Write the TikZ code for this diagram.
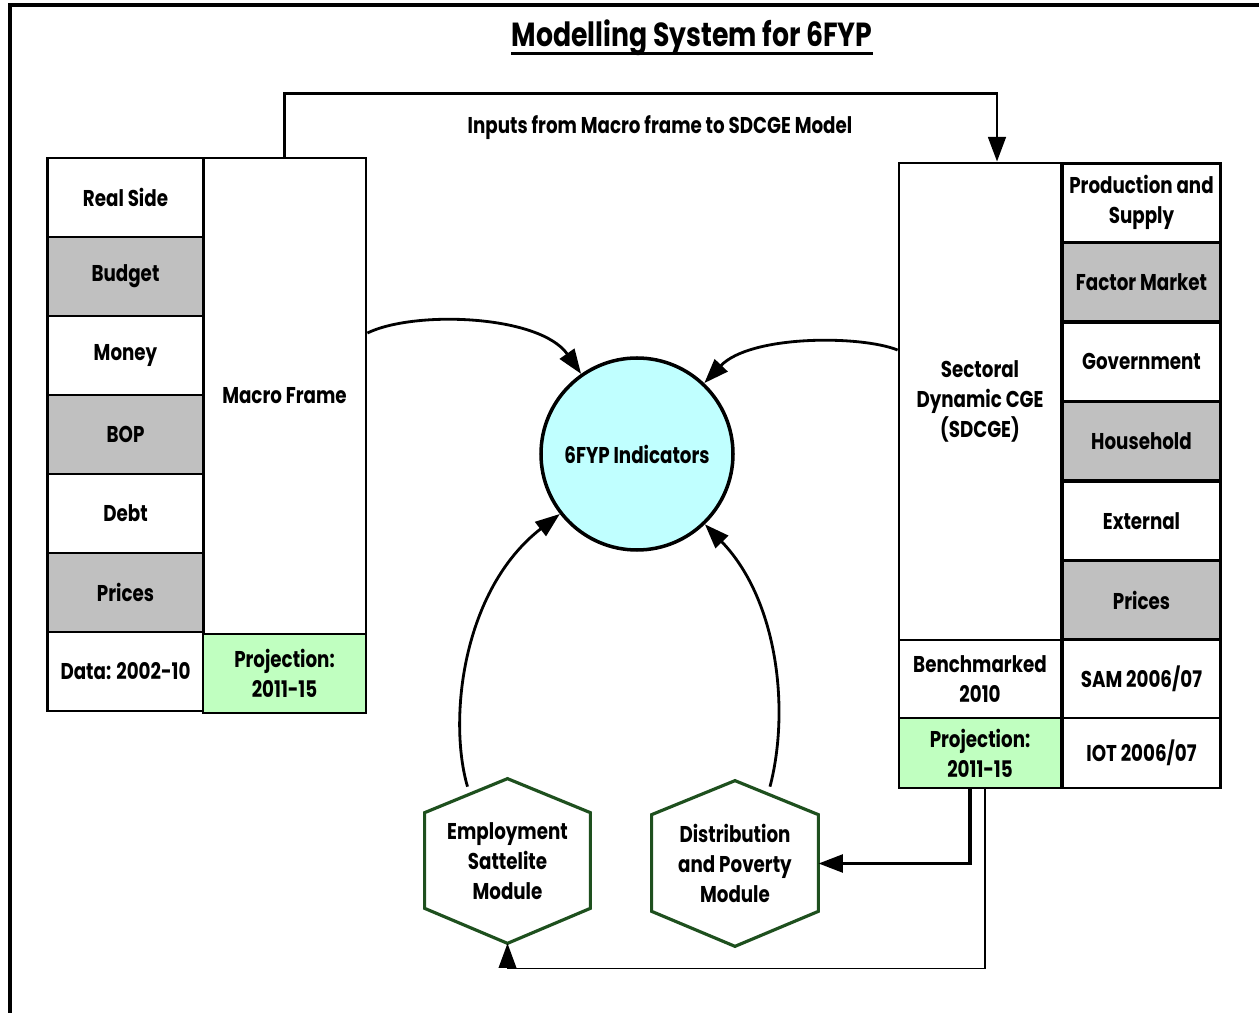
\documentclass[tikz,border=0pt]{standalone}
\usepackage{fontspec}
\setmainfont{Poppins}[FakeStretch=0.8]
\usetikzlibrary{arrows.meta,calc}
\definecolor{boxgray}{RGB}{192,192,192}
\definecolor{projgreen}{RGB}{192,255,192}
\definecolor{indcyan}{RGB}{192,255,255}
\definecolor{hexgreen}{RGB}{30,80,30}
\newcommand\pxu{0.02cm}

\begin{document}
\begin{tikzpicture}[x=0.02cm, y=-0.02cm,
    every node/.style={font=\bfseries\fontsize{13}{17}\selectfont, align=center},
    cell/.style={draw, line width=1.6pt, inner sep=0pt, minimum width=156*\pxu, minimum height=79*\pxu},
    link/.style={line width=1.6pt, -{Triangle[length=14pt,width=10pt]}},
    hexline/.style={draw=hexgreen, line width=1.8pt, line join=miter}]
    \useasboundingbox (0,0) rectangle (1259,1013);
    % frame and title
    \draw[line width=2pt] (10,1013) -- (10,5) -- (1259,5);
    \node[inner sep=0pt] (title) at (692,38) {\fontsize{19}{22}\selectfont Modelling System for 6FYP};
    \draw[line width=1.6pt] ($(title.base west)+(0,7)$) -- ($(title.base east)+(0,7)$);
    % macro frame block
    \foreach \name/\txt/\col [count=\i from 0] in {lreal/Real Side/white, lbudget/Budget/boxgray,
        lmoney/Money/white, lbop/BOP/boxgray, ldebt/Debt/white, lprices/Prices/boxgray, ldata/Data: 2002-10/white} {%
        \node[cell, fill=\col] (\name) at (125.5,{197.5+79*\i}) {\txt};
    }
    \node[cell, minimum width=163*\pxu, minimum height=476*\pxu] (mframe) at (284.5,396) {Macro Frame};
    \node[cell, fill=projgreen, minimum width=163*\pxu] (lproj) at (284.5,673.5) {Projection:\\2011-15};
    % sdcge block
    \node[cell, minimum width=162*\pxu, minimum height=477*\pxu] (sdcge) at (980,401.5) {Sectoral\\Dynamic CGE\\(SDCGE)};
    \foreach \name/\txt/\col [count=\i from 0] in {rprod/{Production and\\Supply}/white, rfactor/Factor Market/boxgray,
        rgov/Government/white, rhouse/Household/boxgray, rext/External/white, rprices/Prices/boxgray} {%
        \node[cell, fill=\col, minimum width=158*\pxu] (\name) at (1141.5,{202.7+79.5*\i}) {\txt};
    }
    \node[cell, minimum width=162*\pxu, minimum height=78*\pxu] (bench) at (980,679) {Benchmarked\\2010};
    \node[cell, minimum width=158*\pxu, minimum height=78*\pxu] (sam) at (1141.5,679) {SAM 2006/07};
    \node[cell, fill=projgreen, minimum width=162*\pxu, minimum height=70*\pxu] (rproj) at (980,753) {Projection:\\2011-15};
    \node[cell, minimum width=158*\pxu, minimum height=70*\pxu] (iot) at (1141.5,753) {IOT 2006/07};
    % indicators
    \node[circle, draw, line width=2pt, fill=indcyan, minimum size=192*\pxu] (ind) at (637,454) {6FYP Indicators};
    % modules
    \node[inner sep=0pt, minimum width=165*\pxu, minimum height=164*\pxu] (emp) at (507.5,861) {Employment\\Sattelite\\Module};
    \node[inner sep=0pt, minimum width=166*\pxu, minimum height=165*\pxu] (dist) at (735,863.5) {Distribution\\and Poverty\\Module};
    \foreach \hx in {emp,dist} {%
        \draw[hexline] (\hx.north) -- ($(\hx.north east)+(0,34)$) -- ($(\hx.south east)+(0,-35)$)
            -- (\hx.south) -- ($(\hx.south west)+(0,-35)$) -- ($(\hx.north west)+(0,34)$) -- cycle;
    }
    % connectors
    \draw[link] (mframe.north) -- ++(0,-63) -| ([xshift=17*\pxu]sdcge.north);
    \node (inputs) at (660,128) {Inputs from Macro frame to SDCGE Model};
    \draw[link] (mframe.east |- 0,333) .. controls (415,310) and (540,315) .. (ind);
    \draw[link] (sdcge.west |- 0,350) .. controls (860,335) and (750,335) .. (ind);
    \draw[link] ($(emp.north)+(-40,8)$) .. controls (448,720) and (462,590) .. (ind);
    \draw[link] ($(dist.north)+(35,6)$) .. controls (790,710) and (778,600) .. (ind);
    \draw[link, line width=2.2pt] ([xshift=-10*\pxu]rproj.south) |- (dist.east);
    \draw[link, line width=1pt] ([xshift=5*\pxu]rproj.south) -- ++(0,179) -| (emp.south);
\end{tikzpicture}
\end{document}
